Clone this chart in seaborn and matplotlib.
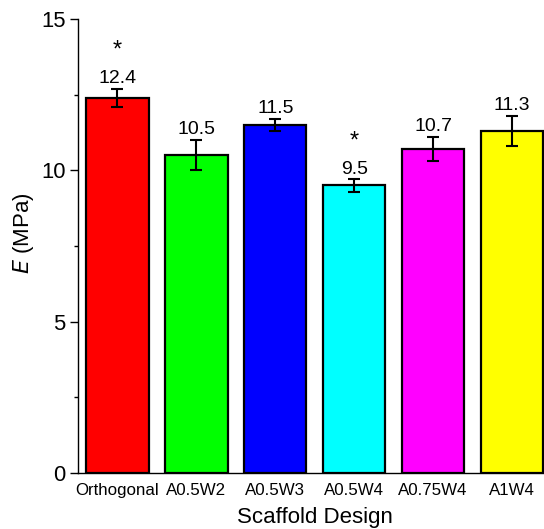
import matplotlib
matplotlib.use("Agg")
import matplotlib.pyplot as plt
import seaborn as sns
import pandas as pd
from matplotlib.ticker import MultipleLocator

designs = ["Orthogonal", "A0.5W2", "A0.5W3", "A0.5W4", "A0.75W4", "A1W4"]
modulus = [12.4, 10.5, 11.5, 9.5, 10.7, 11.3]
errors = [0.3, 0.5, 0.2, 0.2, 0.4, 0.5]
significant = [True, False, False, True, False, False]
colors = ["#FF0000", "#00FF00", "#0000FF", "#00FFFF", "#FF00FF", "#FFFF00"]

sns.set_style("white")
plt.rcParams["font.family"] = ["Liberation Sans", "DejaVu Sans"]
plt.rcParams["text.color"] = "black"
plt.rcParams["axes.labelcolor"] = "black"
plt.rcParams["xtick.color"] = "black"
plt.rcParams["ytick.color"] = "black"

df = pd.DataFrame({"design": designs, "E": modulus})

W, H = 544, 529
fig = plt.figure(figsize=(W / 100, H / 100), dpi=100)
left, right, top, bottom = 78, 551.5, 19, 473
ax = fig.add_axes([left / W, 1 - bottom / H, (right - left) / W, (bottom - top) / H])

sns.barplot(data=df, x="design", y="E", hue="design", palette=colors,
            order=designs, hue_order=designs, legend=False, width=0.79,
            edgecolor="black", linewidth=1.6, ax=ax, errorbar=None, saturation=1)

xs = list(range(len(designs)))
ax.errorbar(xs, modulus, yerr=errors, fmt="none", ecolor="black",
            elinewidth=1.5, capsize=4, capthick=1.5, zorder=5)

for x, v, e, s in zip(xs, modulus, errors, significant):
    ax.text(x, v + e + 0.06, f"{v:.1f}", ha="center", va="bottom", fontsize=14)
    if s:
        ax.text(x, v + e + 0.88, "*", ha="center", va="bottom", fontsize=17)

ax.set_xlim(-0.5, 5.5)
ax.set_ylim(0, 15)
ax.yaxis.set_major_locator(MultipleLocator(5))
ax.yaxis.set_minor_locator(MultipleLocator(2.5))
ax.tick_params(axis="y", which="major", direction="out", length=6, width=1,
               labelsize=15.8, left=True, color="black", pad=3)
ax.tick_params(axis="y", which="minor", direction="out", length=3, width=1,
               left=True, color="black")
ax.tick_params(axis="x", length=0, labelsize=12.2, pad=7)

for sp in ["top", "right"]:
    ax.spines[sp].set_visible(False)
for sp in ["left", "bottom"]:
    ax.spines[sp].set_color("black")
    ax.spines[sp].set_linewidth(1)

ax.set_xlabel("Scaffold Design", fontsize=16, labelpad=6.5)
ax.set_ylabel(r"$\it{E}$ (MPa)", fontsize=16)
ax.yaxis.set_label_coords(-0.088, 0.528)

fig.savefig("out.png", dpi=100)
